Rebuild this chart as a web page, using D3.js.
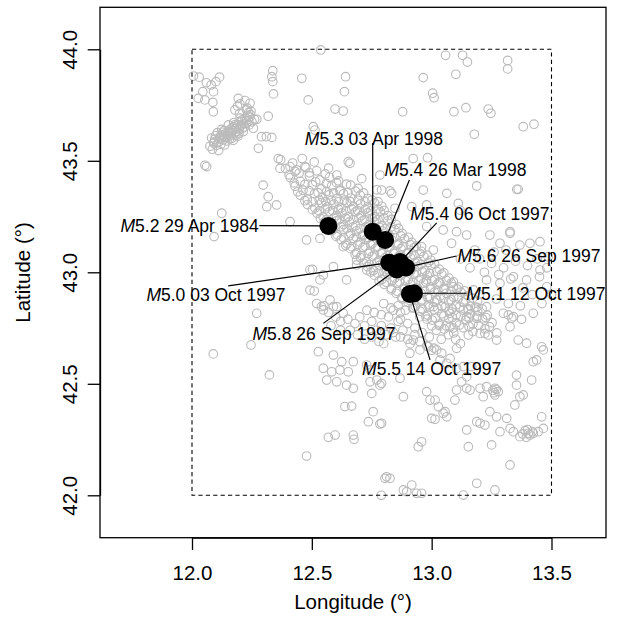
<!DOCTYPE html>
<html>
<head>
<meta charset="utf-8">
<script src="https://cdn.jsdelivr.net/npm/d3@7"></script>
<style>
  html, body { margin: 0; padding: 0; background: #fff; }
  svg { display: block; }
  text { font-family: "Liberation Sans", Arial, Helvetica, sans-serif; fill: #000; }
</style>
</head>
<body>
<svg id="chart" width="636" height="620"></svg>
<script>
// ---- data -------------------------------------------------------------
const xTicks = [12.0, 12.5, 13.0, 13.5];
const yTicks = [42.0, 42.5, 43.0, 43.5, 44.0];
const studyBox = { lon: [12.0, 13.5], lat: [42.0, 44.0] };

// background seismicity, [longitude, latitude]
const nwCluster = [
  [12.006,43.88],[12.03,43.875],[12.06,43.85],[12.08,43.84],[12.10,43.855],[12.115,43.875],
  [12.045,43.81],[12.09,43.81],[12.026,43.78],[12.054,43.773],[12.089,43.72],[12.193,43.78],
  [12.221,43.77],[12.242,43.758],[12.2,43.755],[12.179,43.728],[12.228,43.728],[12.318,43.70],
  [12.27,43.686],[12.25,43.675],[12.29,43.608],[12.31,43.608],[12.333,43.605],[12.277,43.556],
  [12.054,43.48],[12.061,43.474],
  [12.075,43.565],[12.085,43.552],[12.09,43.58],[12.102,43.57],[12.095,43.597],[12.112,43.585],
  [12.117,43.603],[12.121,43.574],[12.126,43.616],[12.131,43.594],[12.137,43.606],[12.141,43.622],
  [12.146,43.589],[12.151,43.632],[12.156,43.611],[12.161,43.642],[12.163,43.621],[12.166,43.601],
  [12.171,43.636],[12.176,43.652],[12.181,43.626],[12.186,43.646],[12.191,43.662],[12.196,43.639],
  [12.202,43.656],[12.206,43.676],[12.211,43.646],[12.216,43.666],[12.221,43.691],[12.226,43.681],
  [12.232,43.702],[12.236,43.716],[12.241,43.696],[12.246,43.722],[12.152,43.661],[12.124,43.641],
  [12.106,43.626],[12.082,43.602],[12.174,43.671],[12.201,43.691],[12.136,43.571],[12.172,43.592],
  [12.192,43.611],[12.214,43.631],[12.239,43.661],[12.256,43.646],[12.261,43.686],[12.111,43.546],
  [12.198,43.711],[12.231,43.736],[12.087,43.762],[12.19,43.745],
  [12.098,43.612],[12.114,43.598],[12.128,43.628],[12.143,43.607],[12.157,43.598],[12.168,43.648],
  [12.183,43.613],[12.188,43.632],[12.207,43.662],[12.219,43.652],[12.228,43.668],[12.134,43.635],
  [12.149,43.618],[12.178,43.661],[12.209,43.684],[12.093,43.585],[12.119,43.611],[12.162,43.629],
  [12.244,43.707],[12.196,43.623]
];

const northField = [
  [12.337,43.904],[12.333,43.877],[12.337,43.855],[12.34,43.80],[12.458,43.87],[12.641,43.877],
  [12.636,43.81],[12.485,43.773],[12.597,43.732],[12.631,43.723],[12.506,43.653],[12.513,43.638],
  [12.36,43.51],[12.367,43.466],[12.409,43.474],[12.437,43.459],[12.471,43.474],[12.537,43.997],
  [13.058,43.973],[13.129,43.973],[13.149,43.943],[13.317,43.95],[13.317,43.912],[13.101,43.888],
  [12.965,43.873],[13.004,43.803],[13.01,43.783],[12.879,43.72],[13.093,43.72],[13.143,43.738],
  [13.236,43.732],[13.247,43.713],[13.382,43.653],[13.427,43.664],[13.178,43.619],[12.923,43.51],
  [12.983,43.514],[12.659,43.489],[12.652,43.496],[12.604,43.436],[12.708,43.42],[12.784,43.436],
  [12.771,43.37],[12.833,43.354],[12.297,43.391],[12.312,43.294],[12.124,43.265],[12.409,43.227],
  [12.092,43.16],[12.318,43.339],[12.353,43.302]
];

const mainBand = [
  [12.37,43.505],[12.42,43.49],[12.46,43.51],[12.51,43.495],
  [12.39,43.465],[12.43,43.452],[12.475,43.47],[12.52,43.455],[12.57,43.467],
  [12.41,43.425],[12.452,43.408],[12.49,43.432],[12.534,43.414],[12.574,43.426],[12.612,43.41],
  [12.43,43.386],[12.463,43.368],[12.502,43.392],[12.54,43.374],[12.583,43.387],[12.62,43.368],[12.662,43.391],[12.693,43.376],
  [12.452,43.345],[12.481,43.328],[12.512,43.352],[12.545,43.336],[12.571,43.347],[12.604,43.33],[12.632,43.352],[12.663,43.333],[12.702,43.346],[12.733,43.331],
  [12.482,43.304],[12.513,43.288],[12.541,43.312],[12.566,43.294],[12.592,43.306],[12.623,43.289],[12.646,43.311],[12.674,43.294],[12.703,43.306],[12.732,43.288],[12.762,43.311],[12.792,43.296],
  [12.522,43.265],[12.547,43.249],[12.573,43.271],[12.603,43.254],[12.626,43.266],[12.652,43.249],[12.682,43.271],[12.706,43.254],[12.733,43.266],[12.762,43.249],[12.786,43.271],[12.817,43.254],
  [12.552,43.226],[12.577,43.208],[12.603,43.231],[12.632,43.214],[12.657,43.226],[12.683,43.209],[12.712,43.231],[12.737,43.214],[12.762,43.226],[12.793,43.209],[12.817,43.231],[12.852,43.214],
  [12.583,43.186],[12.606,43.168],[12.632,43.191],[12.662,43.174],[12.687,43.186],[12.713,43.168],[12.742,43.191],[12.767,43.174],[12.793,43.186],[12.822,43.168],[12.846,43.191],[12.877,43.174],
  [12.622,43.146],[12.647,43.128],[12.673,43.151],[12.702,43.134],[12.726,43.146],[12.752,43.128],[12.782,43.151],[12.806,43.134],[12.833,43.146],[12.862,43.128],[12.887,43.151],[12.917,43.134],
  [12.662,43.106],[12.687,43.088],[12.713,43.111],[12.742,43.094],[12.766,43.106],[12.793,43.088],[12.822,43.111],[12.846,43.094],[12.872,43.106],[12.902,43.088],[12.927,43.111],[12.957,43.094],
  [12.702,43.066],[12.727,43.048],[12.752,43.071],[12.782,43.054],[12.806,43.066],[12.832,43.048],[12.862,43.071],[12.886,43.054],[12.912,43.066],[12.942,43.048],[12.967,43.071],[12.997,43.054],
  [12.732,43.026],[12.757,43.008],[12.782,43.031],[12.812,43.014],[12.836,43.026],[12.862,43.008],[12.892,43.031],[12.916,43.014],[12.942,43.026],[12.972,43.008],[12.997,43.031],[13.032,43.014],
  [12.762,42.986],[12.792,42.968],[12.816,42.991],[12.846,42.974],[12.872,42.986],[12.902,42.968],[12.926,42.991],[12.956,42.974],[12.982,42.986],[13.012,42.968],[13.042,42.991],[13.072,42.974],
  [12.802,42.946],[12.832,42.928],[12.856,42.951],[12.886,42.934],[12.912,42.946],[12.942,42.928],[12.966,42.951],[12.996,42.934],[13.022,42.946],[13.052,42.928],[13.082,42.951],[13.112,42.934],
  [12.852,42.906],[12.877,42.888],[12.902,42.911],[12.932,42.894],[12.956,42.906],[12.982,42.888],[13.012,42.911],[13.036,42.894],[13.062,42.906],[13.092,42.888],[13.122,42.911],[13.152,42.894],
  [12.902,42.866],[12.932,42.848],[12.956,42.871],[12.986,42.854],[13.012,42.866],[13.042,42.848],[13.072,42.871],[13.102,42.854],[13.132,42.866],[13.162,42.848],[13.192,42.871],
  [12.952,42.826],[12.982,42.808],[13.012,42.831],[13.042,42.814],[13.072,42.826],[13.102,42.808],[13.132,42.831],[13.162,42.814],[13.192,42.826],[13.232,42.808],
  [13.002,42.786],[13.032,42.768],[13.072,42.791],[13.102,42.774],[13.142,42.786],[13.172,42.768],[13.212,42.791],[13.252,42.774],
  [13.052,42.746],[13.092,42.728],[13.132,42.751],[13.172,42.734],[13.222,42.746],[13.272,42.728],
  [12.405,43.437],[12.447,43.444],[12.49,43.446],[12.556,43.441],
  [12.426,43.401],[12.471,43.394],[12.516,43.406],[12.561,43.398],[12.603,43.402],[12.645,43.395],
  [12.441,43.361],[12.489,43.366],[12.526,43.357],[12.562,43.363],[12.591,43.356],[12.617,43.365],[12.651,43.357],[12.682,43.364],[12.716,43.356],
  [12.471,43.321],[12.502,43.316],[12.531,43.324],[12.557,43.317],[12.582,43.323],[12.611,43.316],[12.636,43.324],[12.661,43.317],[12.692,43.323],[12.722,43.316],[12.751,43.324],[12.776,43.317],
  [12.502,43.281],[12.531,43.275],[12.556,43.284],[12.587,43.277],[12.611,43.283],[12.642,43.276],[12.666,43.284],[12.691,43.277],[12.722,43.283],[12.746,43.276],[12.776,43.284],[12.802,43.277],
  [12.536,43.241],[12.561,43.235],[12.592,43.244],[12.616,43.237],[12.641,43.243],[12.672,43.236],[12.696,43.244],[12.721,43.237],[12.752,43.243],[12.776,43.236],[12.801,43.244],[12.832,43.237],
  [12.566,43.201],[12.592,43.195],[12.621,43.204],[12.646,43.197],[12.672,43.203],[12.701,43.196],[12.726,43.204],[12.752,43.197],[12.781,43.203],[12.806,43.196],[12.831,43.204],[12.862,43.197],
  [12.601,43.161],[12.632,43.155],[12.656,43.164],[12.686,43.157],[12.712,43.163],[12.736,43.156],[12.766,43.164],[12.792,43.157],[12.816,43.163],[12.846,43.156],[12.871,43.164],[12.902,43.157],
  [12.641,43.121],[12.666,43.115],[12.691,43.124],[12.722,43.117],[12.746,43.123],[12.776,43.116],[12.801,43.124],[12.826,43.117],[12.856,43.123],[12.881,43.116],[12.911,43.124],[12.936,43.117],
  [12.681,43.081],[12.706,43.075],[12.736,43.084],[12.761,43.077],[12.791,43.083],[12.816,43.076],[12.841,43.084],[12.871,43.077],[12.896,43.083],[12.926,43.076],[12.951,43.084],[12.982,43.077],
  [12.716,43.041],[12.741,43.035],[12.771,43.044],[12.796,43.037],[12.821,43.043],[12.851,43.036],[12.876,43.044],[12.901,43.037],[12.931,43.043],[12.956,43.036],[12.986,43.044],[13.012,43.037],
  [12.746,43.001],[12.776,42.995],[12.801,43.004],[12.826,42.997],[12.856,43.003],[12.881,42.996],[12.911,43.004],[12.936,42.997],[12.961,43.003],[12.991,42.996],[13.021,43.004],[13.051,42.997],
  [12.781,42.961],[12.811,42.955],[12.836,42.964],[12.866,42.957],[12.891,42.963],[12.921,42.956],[12.946,42.964],[12.976,42.957],[13.001,42.963],[13.031,42.956],[13.061,42.964],[13.091,42.957],
  [12.831,42.921],[12.856,42.915],[12.886,42.924],[12.916,42.917],[12.941,42.923],[12.971,42.916],[12.996,42.924],[13.026,42.917],[13.051,42.923],[13.081,42.916],[13.106,42.924],[13.136,42.917],
  [12.876,42.881],[12.906,42.875],[12.931,42.884],[12.961,42.877],[12.991,42.883],[13.021,42.876],[13.051,42.884],[13.081,42.877],[13.111,42.883],[13.141,42.876],[13.171,42.884],
  [12.926,42.841],[12.961,42.835],[12.991,42.844],[13.026,42.837],[13.056,42.843],[13.086,42.836],[13.116,42.844],[13.151,42.837],[13.181,42.843],[13.211,42.836],
  [12.976,42.801],[13.016,42.795],[13.051,42.804],[13.086,42.797],[13.121,42.803],[13.156,42.796],[13.191,42.804],[13.226,42.797],
  [13.031,42.761],[13.076,42.755],[13.116,42.764],[13.156,42.757],[13.196,42.763],[13.241,42.756],
  [12.478,43.145],[12.534,43.152],[12.503,43.013],[12.548,42.988],[12.534,42.966],[12.51,42.916],
  [12.631,43.115],[12.687,43.055],[12.729,43.01],[12.576,42.876],[12.604,42.846],[12.631,42.816],
  [12.548,42.831],[12.492,43.011],[12.59,43.025],[12.645,42.966],[12.687,43.033],[12.492,42.92],
  [12.54,42.846],[12.59,42.846],
  [12.52,42.86],[12.55,42.85],[12.57,42.82],[12.60,42.80],[12.62,42.78],[12.65,42.79],[12.68,42.77],
  [12.70,42.80],[12.72,42.76],[12.75,42.78],[12.77,42.74],[12.79,42.76],[12.81,42.72],[12.83,42.75],
  [12.85,42.71],[12.66,42.74],[12.69,42.72],[12.72,42.70],[12.75,42.71],[12.78,42.69],[12.80,42.68],
  [12.58,42.76],[12.62,42.74],[12.86,42.78],[12.88,42.74],[12.90,42.70],[12.93,42.72],[12.73,42.83],
  [12.76,42.82],[12.79,42.81],[12.82,42.80],[12.84,42.83],[12.87,42.82],
  [12.80,42.86],[12.83,42.84],[12.86,42.85],[12.89,42.83],[12.92,42.84],[12.95,42.80],[12.98,42.79],
  [13.00,42.76],[12.87,42.79],[12.90,42.77],[12.93,42.75],[12.96,42.73],[12.99,42.71],[13.02,42.74],
  [13.04,42.70],[13.07,42.72],[13.10,42.70],[13.12,42.68],[12.95,42.69],[12.98,42.67],[12.84,42.73],
  [12.87,42.71],[12.91,42.68],[13.06,42.76],[13.09,42.75]
];

const eastField = [
  [13.188,43.387],[13.361,43.372],[13.243,43.167],[13.327,43.175],[13.285,43.13],[13.368,43.122],
  [13.41,43.13],[13.452,43.137],[13.486,43.07],[13.048,43.19],[13.104,43.182],[13.146,43.167],
  [13.083,43.13],[12.979,43.205],[12.958,43.115],[13.007,43.1],[12.847,43.287],[12.917,43.294],
  [12.979,43.302],[13.111,43.309],[13.118,43.279],[13.327,43.182],[12.965,43.369],[13.063,43.354],
  [12.826,43.365],[12.791,43.369],[13.355,43.372],
  [12.979,42.966],[13.035,42.951],[13.09,42.935],[13.174,42.921],[13.229,42.966],[13.285,42.951],
  [13.341,42.98],[13.396,42.966],[13.452,43.01],[13.48,42.935],[13.229,42.846],[13.299,42.816],
  [13.341,42.801],[13.424,42.816],[13.007,42.846],[13.076,42.816],[13.146,42.801],
  [13.20,43.06],[13.25,43.04],[13.30,43.02],[13.35,43.05],[13.40,43.03],[13.22,43.00],[13.28,42.99],
  [13.33,42.97],[13.45,42.98],[13.38,42.93],[13.42,42.90],[13.16,43.02],[13.12,43.06],[13.18,43.10],
  [13.26,43.09],[13.31,43.10],[13.44,43.06],[13.48,43.02],[13.20,42.90],[13.27,42.88],[13.32,42.86],
  [13.37,42.85],[13.46,42.86],[13.50,42.90]
];

const southField = [
  [12.27,42.816],[12.089,42.634],[12.246,42.674],[12.323,42.54],
  [12.527,42.644],[12.59,42.629],[12.625,42.599],[12.673,42.599],[12.548,42.57],[12.583,42.554],
  [12.617,42.562],[12.652,42.554],[12.562,42.517],[12.604,42.509],[12.645,42.494],[12.673,42.48],
  [12.729,42.584],[12.743,42.562],[12.771,42.517],[12.743,42.509],[12.784,42.494],[12.75,42.457],
  [12.638,42.398],[12.666,42.40],[12.756,42.375],[12.736,42.33],[12.784,42.32],[12.569,42.26],
  [12.597,42.27],[12.673,42.27],[12.676,42.251],[12.478,42.176],[12.805,42.076],[12.826,42.076],
  [12.79,42.0],[12.812,42.083],[12.882,42.024],[12.896,42.016],[12.917,42.046],[12.937,42.009],
  [12.958,42.009],[13.132,42.001],[13.188,42.054],[13.264,42.024],
  [13.153,42.831],[13.188,42.843],[13.188,42.794],[13.202,42.726],[13.222,42.726],[13.236,42.719],
  [13.271,42.696],[13.153,42.719],[13.32,42.809],[13.334,42.794],[13.327,42.756],[13.375,42.789],
  [13.361,42.696],[13.396,42.682],[13.459,42.666],[13.466,42.652],[13.424,42.599],[13.438,42.607],
  [13.417,42.517],[13.354,42.539],[13.354,42.494],[13.368,42.442],[13.382,42.45],[13.347,42.405],
  [13.243,42.375],[13.271,42.352],[13.202,42.323],[13.222,42.315],[13.188,42.33],[13.146,42.293],
  [13.313,42.345],[13.327,42.30],[13.285,42.285],[13.341,42.285],[13.368,42.263],[13.403,42.278],
  [13.424,42.278],[13.445,42.285],[13.466,42.30],[13.459,42.352],[13.153,42.218],[13.25,42.226],
  [13.327,42.136],[12.958,42.24],[12.944,42.218],[13.0,42.345],[13.014,42.341],[13.048,42.368],
  [13.063,42.352],[13.097,42.427],[13.104,42.472],[13.125,42.509],[13.146,42.48],[13.16,42.472],
  [13.202,42.48],[13.215,42.442],[13.229,42.487],[13.264,42.48],[13.278,42.465],[13.264,42.45],
  [12.979,42.465],[12.993,42.427],[13.014,42.427],[13.028,42.397],[13.056,42.375],[12.882,42.442],
  [12.791,42.502],[12.791,42.323],[12.923,42.696],[12.909,42.637],[12.951,42.652],[12.986,42.666],
  [13.021,42.652],[13.042,42.637],[13.035,42.607],[13.063,42.592],[13.077,42.614],[13.104,42.659],
  [13.104,42.569],[13.132,42.577],[13.146,42.532],[13.167,42.577],[12.868,42.525],
  [13.39,42.29],[13.41,42.27],[13.40,42.295],[13.42,42.285],[13.38,42.275],[13.395,42.26],
  [13.0,42.65],[13.01,42.66],[13.255,42.47],[13.27,42.475],[13.26,42.46]
];

// larger events: magnitude, date, epicentre, label centre and leader end point
const shocks = [
  { mag: "5.2", date: "29 Apr 1984", lon: 12.569, lat: 43.208, tLon: 11.990, tLat: 43.209, eLon: 12.281, eLat: 43.209 },
  { mag: "5.3", date: "03 Apr 1998", lon: 12.754, lat: 43.182, tLon: 12.759, tLat: 43.601, eLon: 12.754, eLat: 43.580 },
  { mag: "5.4", date: "26 Mar 1998", lon: 12.806, lat: 43.145, tLon: 13.099, tLat: 43.459, eLon: 12.907, eLat: 43.414 },
  { mag: "5.4", date: "06 Oct 1997", lon: 12.868, lat: 43.046, tLon: 13.201, tLat: 43.261, eLon: 13.021, eLat: 43.222 },
  { mag: "5.6", date: "26 Sep 1997", lon: 12.893, lat: 43.022, tLon: 13.406, tLat: 43.073, eLon: 13.104, eLat: 43.073 },
  { mag: "5.0", date: "03 Oct 1997", lon: 12.823, lat: 43.043, tLon: 12.100, tLat: 42.898, eLon: 12.151, eLat: 42.939 },
  { mag: "5.1", date: "12 Oct 1997", lon: 12.926, lat: 42.906, tLon: 13.435, tLat: 42.906, eLon: 13.146, eLat: 42.906 },
  { mag: "5.8", date: "26 Sep 1997", lon: 12.854, lat: 43.013, tLon: 12.551, tLat: 42.726, eLon: 12.548, eLat: 42.771 },
  { mag: "5.5", date: "14 Oct 1997", lon: 12.909, lat: 42.903, tLon: 13.000, tLat: 42.566, eLon: 12.993, eLat: 42.607 }
];

// ---- layout -------------------------------------------------------------
const frame = { left: 100, right: 606, top: 7.3, bottom: 537.7 };
const axisFont = 20.5;
const noteFont = 17.5;

const x = d3.scaleLinear().domain([12.0, 13.5]).range([192, 551.5]);
const y = d3.scaleLinear().domain([42.0, 44.0]).range([495.3, 49.3]);

const svg = d3.select("#chart");

// background events
const background = [].concat(nwCluster, northField, mainBand, eastField, southField);
svg.append("g")
  .selectAll("circle")
  .data(background)
  .join("circle")
  .attr("cx", d => x(d[0]))
  .attr("cy", d => y(d[1]))
  .attr("r", 4.3)
  .attr("fill", "none")
  .attr("stroke", "#bbbbbb")
  .attr("stroke-width", 1.15);

// study area outline
svg.append("rect")
  .attr("x", x(studyBox.lon[0]))
  .attr("y", y(studyBox.lat[1]))
  .attr("width", x(studyBox.lon[1]) - x(studyBox.lon[0]))
  .attr("height", y(studyBox.lat[0]) - y(studyBox.lat[1]))
  .attr("fill", "none")
  .attr("stroke", "#000")
  .attr("stroke-width", 1.1)
  .attr("stroke-dasharray", "4.2,3.2");

// leader lines
svg.append("g")
  .selectAll("line")
  .data(shocks)
  .join("line")
  .attr("x1", d => x(d.eLon))
  .attr("y1", d => y(d.eLat))
  .attr("x2", d => x(d.lon))
  .attr("y2", d => y(d.lat))
  .attr("stroke", "#000")
  .attr("stroke-width", 1.2);

// large events
svg.append("g")
  .selectAll("circle")
  .data(shocks)
  .join("circle")
  .attr("cx", d => x(d.lon))
  .attr("cy", d => y(d.lat))
  .attr("r", 9)
  .attr("fill", "#000");

// labels
const labels = svg.append("g")
  .selectAll("text")
  .data(shocks)
  .join("text")
  .attr("x", d => x(d.tLon))
  .attr("y", d => y(d.tLat))
  .attr("dy", "0.36em")
  .attr("text-anchor", "middle")
  .style("font-size", noteFont + "px");
labels.append("tspan").style("font-style", "italic").text("M");
labels.append("tspan").text(d => d.mag + " " + d.date);

// plot frame
svg.append("rect")
  .attr("x", frame.left)
  .attr("y", frame.top)
  .attr("width", frame.right - frame.left)
  .attr("height", frame.bottom - frame.top)
  .attr("fill", "none")
  .attr("stroke", "#000")
  .attr("stroke-width", 1.3);

// axes
const xAxis = svg.append("g")
  .attr("transform", `translate(0,${frame.bottom})`)
  .call(d3.axisBottom(x).tickValues(xTicks).tickFormat(d3.format(".1f"))
    .tickSize(12.3).tickSizeOuter(0).tickPadding(15));
const yAxis = svg.append("g")
  .attr("transform", `translate(${frame.left},0)`)
  .call(d3.axisLeft(y).tickValues(yTicks).tickFormat(d3.format(".1f"))
    .tickSize(12.3).tickSizeOuter(0));

[xAxis, yAxis].forEach(g => {
  g.select(".domain").attr("stroke", "#000").attr("stroke-width", 1.3);
  g.selectAll(".tick line").attr("stroke", "#000").attr("stroke-width", 1.3);
  g.selectAll(".tick text")
    .style("font-family", "'Liberation Sans', Arial, Helvetica, sans-serif")
    .style("font-size", axisFont + "px")
    .attr("fill", "#000");
});

yAxis.selectAll(".tick text")
  .attr("x", null).attr("dy", null)
  .attr("text-anchor", "middle")
  .attr("transform", "translate(-23,0) rotate(-90)");

// axis titles
svg.append("text")
  .attr("x", (frame.left + frame.right) / 2)
  .attr("y", 609)
  .attr("text-anchor", "middle")
  .style("font-size", axisFont + "px")
  .text("Longitude (°)");

svg.append("text")
  .attr("transform", `translate(30,${(frame.top + frame.bottom) / 2}) rotate(-90)`)
  .attr("text-anchor", "middle")
  .style("font-size", axisFont + "px")
  .text("Latitude (°)");
</script>
</body>
</html>
